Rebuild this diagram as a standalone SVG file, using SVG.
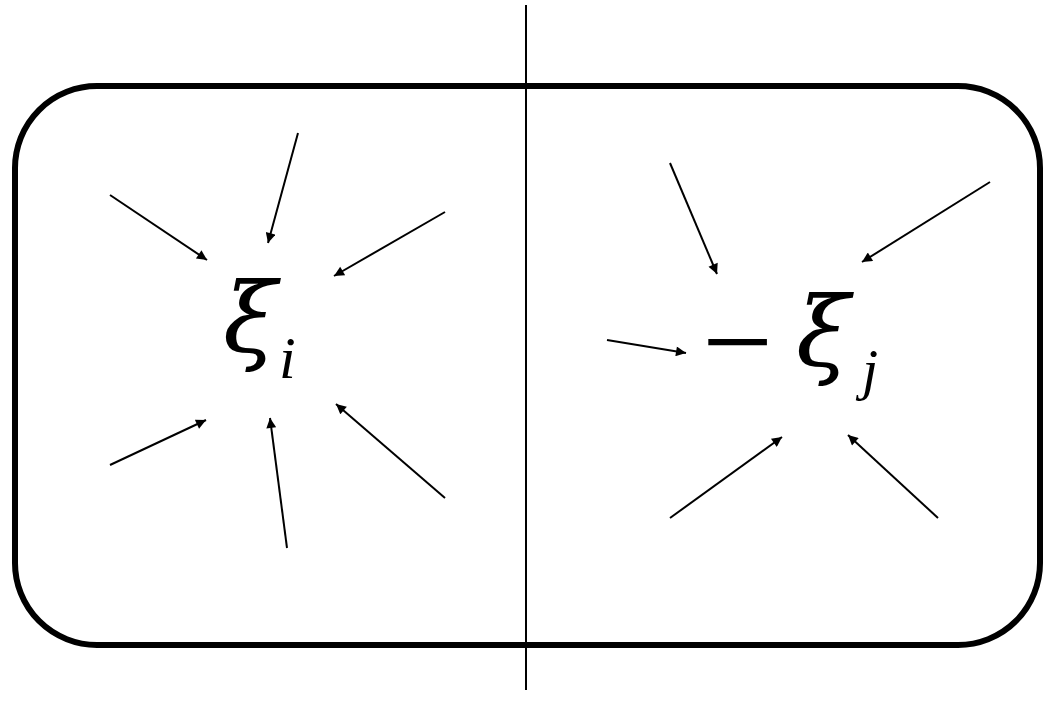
<svg xmlns="http://www.w3.org/2000/svg" width="1045" height="708" viewBox="0 0 1045 708">
<defs>
<marker id="ah" viewBox="0 0 10 10" refX="10" refY="5" markerWidth="6" markerHeight="5" orient="auto" markerUnits="strokeWidth">
<path d="M0,0 L10,5 L0,10 z" fill="#000"/>
</marker>
<style>
.c{stroke:#000;stroke-width:2;fill:none;marker-end:url(#ah)}
.t{font-family:"Liberation Serif","Times New Roman",serif;font-style:italic;fill:#000}
.g{font-family:"DejaVu Serif",serif;font-style:italic;fill:#000}
</style>
</defs>
<rect width="1045" height="708" fill="#fff"/>
<g id="frame">
<rect x="15" y="86" width="1025" height="559" rx="82" ry="82" fill="none" stroke="#000" stroke-width="6"/>
<line x1="526" y1="5" x2="526" y2="690" stroke="#000" stroke-width="2"/>
</g>
<g id="node-xi-i">
<text class="g" x="223" y="352" font-size="98">ξ</text>
<text class="t" x="279" y="378" font-size="60">i</text>
</g>
<g id="node-xi-j">
<text x="702" y="384" font-size="126" font-family="Liberation Serif, serif" fill="#000">−</text>
<text class="g" x="796" y="366" font-size="98">ξ</text>
<text class="t" x="862" y="389" font-size="58">j</text>
</g>
<g id="connectors">
<line class="c" x1="110" y1="195" x2="207" y2="260"/>
<line class="c" x1="298" y1="133" x2="268" y2="243"/>
<line class="c" x1="445" y1="212" x2="334" y2="276"/>
<line class="c" x1="110" y1="465" x2="206" y2="420"/>
<line class="c" x1="287" y1="548" x2="270" y2="418"/>
<line class="c" x1="445" y1="498" x2="336" y2="404"/>
<line class="c" x1="670" y1="163" x2="717" y2="274"/>
<line class="c" x1="990" y1="182" x2="862" y2="262"/>
<line class="c" x1="607" y1="340" x2="686" y2="353"/>
<line class="c" x1="670" y1="518" x2="782" y2="437"/>
<line class="c" x1="938" y1="518" x2="848" y2="435"/>
</g>
</svg>
